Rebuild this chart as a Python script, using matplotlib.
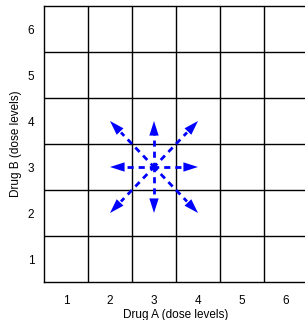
import matplotlib
matplotlib.use("Agg")
import matplotlib.pyplot as plt

plt.rcParams["font.family"] = ["Liberation Sans", "DejaVu Sans"]

# dose levels for both drugs
levels_a = [1, 2, 3, 4, 5, 6]
levels_b = [1, 2, 3, 4, 5, 6]

# current combination and the eight neighbouring moves
center = (3, 3)
move_dx = [1, 1, 0, -1, -1, -1, 0, 1]
move_dy = [0, 1, 1, 1, 0, -1, -1, -1]

BLUE = "#0000ff"

fig = plt.figure(figsize=(3.05, 3.2), dpi=100)
ax = fig.add_axes([44 / 305, 38 / 320, 264 / 305, 276 / 320])

ax.set_xlim(levels_a[0] - 0.5, levels_a[-1] + 0.5)
ax.set_ylim(levels_b[0] - 0.5, levels_b[-1] + 0.5)

for x in levels_a[:-1]:
    ax.axvline(x + 0.5, color="black", linewidth=1.0)
for y in levels_b[:-1]:
    ax.axhline(y + 0.5, color="black", linewidth=1.0)

for dx, dy in zip(move_dx, move_dy):
    cx, cy = center
    ax.plot([cx, cx + dx * 0.75], [cy, cy + dy * 0.75], color=BLUE,
            linewidth=2.0, linestyle=(0.5, (2.2, 1.8)), solid_capstyle="butt")
    ax.annotate("", xy=(cx + dx, cy + dy), xytext=(cx + dx * 0.7, cy + dy * 0.7),
                arrowprops=dict(arrowstyle="-|>,head_length=1.0,head_width=0.32",
                                color=BLUE, lw=0, mutation_scale=10.5,
                                shrinkA=0, shrinkB=0))

ax.set_xticks(levels_a)
ax.set_yticks(levels_b)
ax.tick_params(length=0, labelsize=8.5)
ax.tick_params(axis="x", pad=9)
ax.tick_params(axis="y", pad=7)
ax.set_xlabel("Drug A (dose levels)", fontsize=8.5, labelpad=2)
ax.set_ylabel("Drug B (dose levels)", fontsize=8.5, labelpad=4)
for s in ax.spines.values():
    s.set_linewidth(1.0)

fig.savefig("out.png", dpi=100)
